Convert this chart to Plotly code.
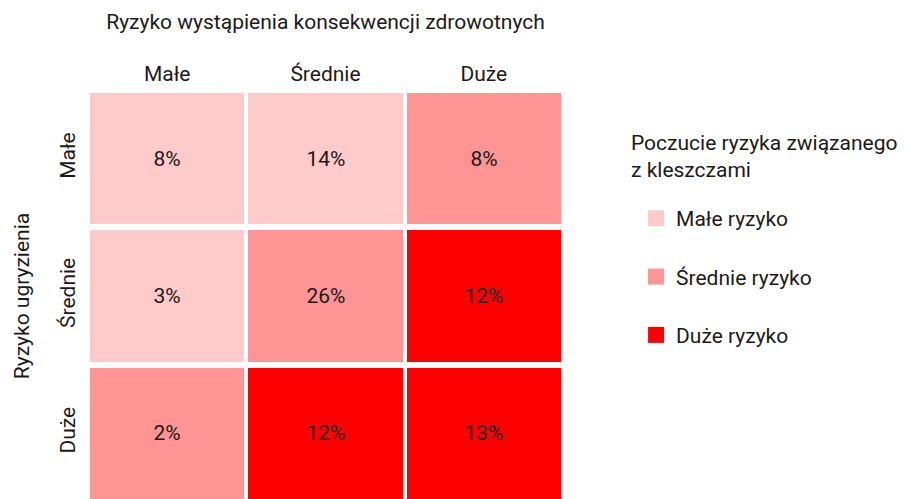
"""Tick-risk matrix: bite risk vs. health-consequence risk."""

import plotly.graph_objects as go

# columns: risk of health consequences, rows: risk of being bitten
col_labels = ["Małe", "Średnie", "Duże"]
row_labels = ["Małe", "Średnie", "Duże"]

# share of respondents in each cell (%)
shares = [
    [8, 14, 8],
    [3, 26, 12],
    [2, 12, 13],
]

# perceived tick risk level for each cell: 1 = small, 2 = medium, 3 = large
risk_level = [
    [1, 1, 2],
    [1, 2, 3],
    [2, 3, 3],
]

level_names = ["Małe ryzyko", "Średnie ryzyko", "Duże ryzyko"]
level_colors = ["#FFCACA", "#FF9494", "#FF0000"]

FONT = "Roboto"
TEXT = "#1a1a1a"
FS = 21

colorscale = []
for i, c in enumerate(level_colors):
    colorscale.append([i / 3, c])
    colorscale.append([(i + 1) / 3, c])

cell_text = [[f"{v}%" for v in row] for row in shares]

fig = go.Figure()
fig.add_trace(go.Heatmap(
    z=risk_level,
    x=col_labels,
    y=row_labels,
    text=cell_text,
    texttemplate="%{text}",
    textfont=dict(family=FONT, size=FS, color=TEXT),
    colorscale=colorscale,
    zmin=0.5,
    zmax=3.5,
    showscale=False,
    xgap=4,
    ygap=6,
    hoverinfo="skip",
    showlegend=False,
))

# legend entries for the risk levels
for name, color in zip(level_names, level_colors):
    fig.add_trace(go.Scatter(
        x=[None],
        y=[None],
        mode="markers",
        name=name,
        legendgroup=name,
        marker=dict(symbol="square", size=22, color=color),
    ))

# legend heading
fig.add_annotation(
    text="Poczucie ryzyka związanego<br>z kleszczami",
    xref="paper", yref="paper",
    x=1.139, y=0.905,
    xanchor="left", yanchor="top",
    align="left",
    showarrow=False,
    font=dict(size=FS),
)

# the page body adds an 8px offset, margins allow for it
fig.update_layout(
    width=905,
    height=499,
    margin=dict(l=80, r=350, t=82, b=5, autoexpand=False),
    paper_bgcolor="white",
    plot_bgcolor="white",
    font=dict(family=FONT, size=FS, color=TEXT),
    xaxis=dict(
        side="top",
        range=[-0.5, 2.5],
        automargin=False,
        showgrid=False,
        zeroline=False,
        showline=False,
        ticks="",
        ticklabelstandoff=4,
        tickfont=dict(size=FS),
        title=dict(text="Ryzyko wystąpienia konsekwencji zdrowotnych", font=dict(size=FS), standoff=26),
    ),
    yaxis=dict(
        range=[2.5, -0.5],
        automargin=False,
        showgrid=False,
        zeroline=False,
        showline=False,
        ticks="",
        tickangle=-90,
        ticklabelstandoff=8,
        tickfont=dict(size=FS),
        title=dict(text="Ryzyko ugryzienia", font=dict(size=FS), standoff=20),
    ),
    legend=dict(
        xref="container",
        yref="container",
        x=0.694,
        y=0.619,
        xanchor="left",
        yanchor="top",
        tracegroupgap=28,
        font=dict(size=FS),
        bgcolor="rgba(0,0,0,0)",
    ),
)

fig.write_html("out.html")
